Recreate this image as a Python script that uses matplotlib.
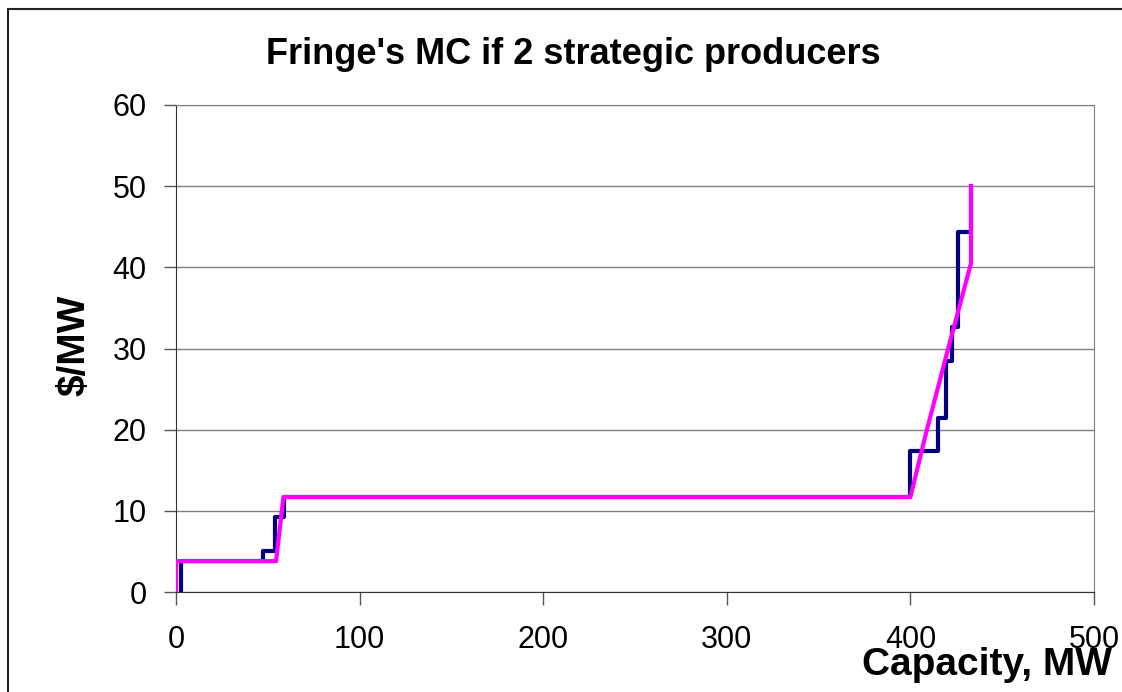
import matplotlib
matplotlib.use("Agg")
import matplotlib.pyplot as plt
from matplotlib.patches import Rectangle

plt.rcParams["font.family"] = ["Liberation Sans", "DejaVu Sans"]

# fringe supply steps (capacity MW, $/MW)
step_x = [2.5, 2.5, 47.5, 54, 59, 400, 415, 419.5, 422.5, 425.7, 433]
step_y = [0, 3.8, 5.0, 9.2, 11.7, 17.4, 21.4, 28.5, 32.7, 44.3, 50]
# smoothed MC curve
mc_x = [0, 0, 54.5, 58.5, 400, 409, 420, 433, 433]
mc_y = [0, 3.8, 3.8, 11.7, 11.7, 20.0, 29.5, 40.5, 50]

fig = plt.figure(figsize=(11.22, 6.92), dpi=100)
ax = fig.add_axes([176 / 1122, 1 - 592 / 692, (1094 - 176) / 1122, (592 - 105) / 692])

# outer chart border (cut off at right/bottom like the screenshot)
fig.patches.append(Rectangle((8 / 1122, -0.1), 1.2, 1 - 9 / 692 + 0.1,
                             transform=fig.transFigure, fill=False,
                             edgecolor="#222222", linewidth=1.5))

ax.step(step_x, step_y, where="post", color="#000080", lw=3.0, zorder=3)
ax.plot(mc_x, mc_y, color="#ff00ff", lw=3.0, zorder=4)

ax.set_xlim(0, 500)
ax.set_ylim(0, 60)
ax.set_xticks(range(0, 501, 100))
ax.set_yticks(range(0, 61, 10))
ax.grid(axis="y", color="#808080", lw=1.0)
ax.set_axisbelow(True)
for s in ["top", "right"]:
    ax.spines[s].set_color("#808080")
for s in ["left", "bottom"]:
    ax.spines[s].set_color("#333333")
ax.tick_params(direction="out", length=9, width=1, color="#555555",
               labelsize=22, pad=15)
ax.tick_params(axis="y", pad=12)

fig.text(573 / 1122, 1 - 55 / 692, "Fringe's MC if 2 strategic producers",
         ha="center", va="center", fontsize=26, weight="bold")
fig.text(1112 / 1122, 1 - 675 / 692, "Capacity, MW", ha="right", va="baseline",
         fontsize=28, weight="bold")
fig.text(74 / 1122, 1 - 345 / 692, "$/MW", ha="center", va="center",
         rotation=90, fontsize=28, weight="bold")

fig.savefig("out.png", dpi=100)
